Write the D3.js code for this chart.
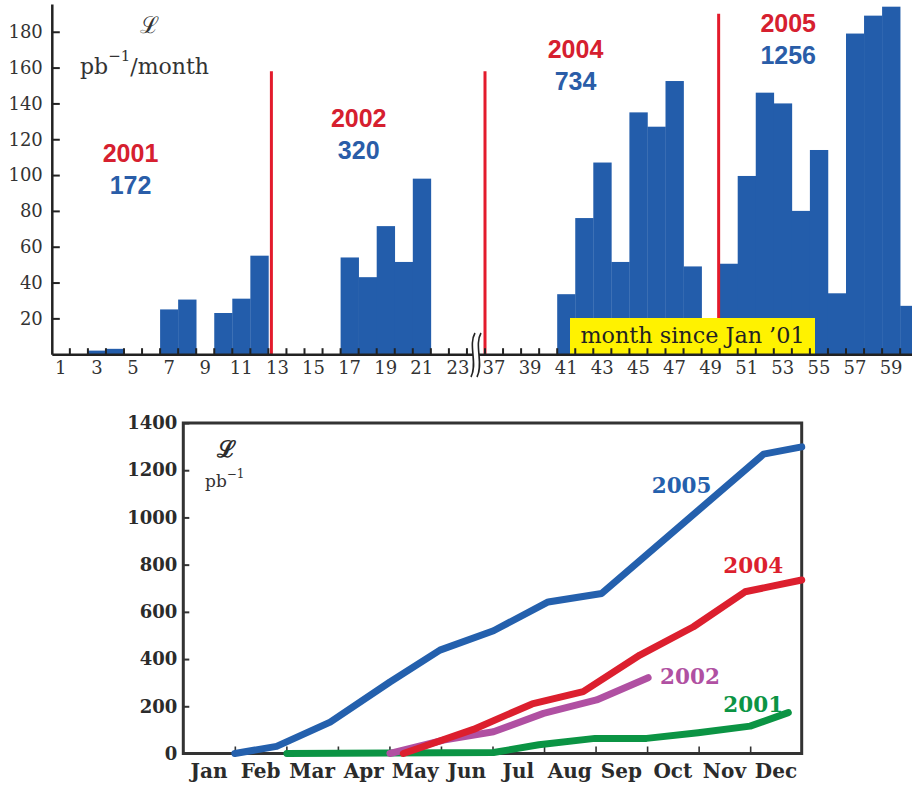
<!DOCTYPE html>
<html><head><meta charset="utf-8">
<script src="https://cdn.jsdelivr.net/npm/d3@7"></script>
<style>body{margin:0;background:#fff} svg{display:block}</style>
</head><body><svg id="c" width="912" height="786"></svg>
<script>
// ---------- DATA: top chart (monthly luminosity) ----------
const monthNumbers = [1,2,3,4,5,6,7,8,9,10,11,12,13,14,15,16,17,18,19,20,21,22,23,24,
                      37,38,39,40,41,42,43,44,45,46,47,48,49,50,51,52,53,54,55,56,57,58,59,60];
const monthlyLumi  = [0,0,2,3,0,0,25,30.5,0,23,31,55,
                      0,0,0,0,54,43,71.5,51.5,98,0,0,0,
                      0,0,0,0,33.5,76,107,51.5,135,127,152.5,49,
                      0,50.5,99.5,146,140,80,114,34,179,189,194,27];
const monthTickLabels = [1,3,5,7,9,11,13,15,17,19,21,23,37,39,41,43,45,47,49,51,53,55,57,59];
const topYTicks = [20,40,60,80,100,120,140,160,180];
const yearNames  = ["2001","2002","2004","2005"];
const yearTotals = ["172","320","734","1256"];
const boundaryAfterMonth = [12,24,49];
const boundaryTopValue = [158,158,190];

// ---------- DATA: bottom chart (cumulative) ----------
const cumMonths = ["Jan","Feb","Mar","Apr","May","Jun","Jul","Aug","Sep","Oct","Nov","Dec"];
const cumYTicks = [0,200,400,600,800,1000,1200,1400];
const cum2005T = [1.0,1.81,2.85,4.01,4.98,6.02,7.08,8.12,11.26,12.0];
const cum2005V = [0,30,133,303,438,520,642,678,1268,1299];
const cum2004T = [4.27,5.63,6.77,7.76,8.86,9.90,10.90,12.0];
const cum2004V = [0,102,210,262,417,537,685,735];
const cum2002T = [4.01,5.05,6.02,6.99,8.02,9.02];
const cum2002V = [0,57,92,170,227,321];
const cum2001T = [2.01,4.0,6.02,6.9,7.99,8.99,9.99,11.0,11.74];
const cum2001V = [0,2,4,37,64,64,88,116,173];

const svg = d3.select("#c");
const BLUE = "#235dab";

// ================= TOP CHART =================
const step = 18.05, x0 = 51.8;
const xTop = d3.scaleBand().domain(monthNumbers).range([x0, x0 + monthNumbers.length*step]).padding(0);
const yTop = d3.scaleLinear().domain([0,195.5]).range([354.2, 4]);
const bw = xTop.bandwidth();
const gT = svg.append("g");

const barData = monthNumbers.map((m,i)=>({m, v: monthlyLumi[i]})).filter(d=>d.v>0);
gT.selectAll("rect.bar").data(barData).join("rect").attr("class","bar")
  .attr("x", d=>xTop(d.m)).attr("width", bw+0.3)
  .attr("y", d=>yTop(d.v)).attr("height", d=>yTop(0)-yTop(d.v))
  .attr("fill", BLUE);

// red boundaries
const nudge = [3,0,-1];
gT.selectAll("line.bnd").data(boundaryAfterMonth).join("line").attr("class","bnd")
  .attr("x1",(d,i)=>xTop(d)+bw+nudge[i]).attr("x2",(d,i)=>xTop(d)+bw+nudge[i])
  .attr("y1",(d,i)=>yTop(boundaryTopValue[i])).attr("y2",yTop(0))
  .attr("stroke","#e31b2c").attr("stroke-width",3);

// yellow label box
gT.append("rect").attr("x",570).attr("y",318).attr("width",245).attr("height",36).attr("fill","#fff200");
gT.append("text").attr("x",692.5).attr("y",343).attr("text-anchor","middle")
  .attr("font-family","DejaVu Serif").attr("font-size",22.3).attr("fill","#222")
  .text("month since Jan \u201901");

// y axis
const yAxT = gT.append("g").attr("transform",`translate(${x0},0)`)
  .call(d3.axisLeft(yTop).tickValues(topYTicks).tickSizeInner(-8).tickSizeOuter(0).tickPadding(9));
yAxT.select(".domain").attr("stroke","#222").attr("stroke-width",2.5);
yAxT.selectAll(".tick line").attr("stroke","#222").attr("stroke-width",2);
yAxT.selectAll("text").attr("font-family","DejaVu Serif").attr("font-size",18).attr("fill","#333");

// x axis line + labels
const xAxT = gT.append("g").attr("transform",`translate(0,${yTop(0)})`)
  .call(d3.axisBottom(xTop).tickValues(monthTickLabels).tickSize(0).tickPadding(7));
xAxT.select(".domain").attr("stroke","#222").attr("stroke-width",2.5);
xAxT.selectAll("text").attr("font-family","DejaVu Serif").attr("font-size",18).attr("fill","#333");
// inward edge ticks
const edges = monthNumbers.map(m=>xTop(m)).slice(1);
gT.selectAll("line.et").data(edges).join("line").attr("class","et")
  .attr("x1",d=>d).attr("x2",d=>d).attr("y1",yTop(0)).attr("y2",yTop(0)-6)
  .attr("stroke","#222").attr("stroke-width",2);

// axis break symbol
const bx = xTop(24) + bw/2;
gT.append("rect").attr("x",bx-3).attr("y",yTop(0)-3).attr("width",6).attr("height",6).attr("fill","#fff");
[bx-3, bx+3].forEach(cx=>{
  gT.append("path").attr("d",`M${cx+2},333 C${cx-5},345 ${cx+5},364 ${cx-2},377`)
    .attr("fill","none").attr("stroke","#222").attr("stroke-width",1.6);
});

// units label
gT.append("text").attr("x",149).attr("y",33).attr("text-anchor","middle")
  .attr("font-family","DejaVu Serif").attr("font-size",23).attr("fill","#333").text("\u2112");
const unit = gT.append("text").attr("x",80).attr("y",74).attr("font-family","DejaVu Serif")
  .attr("font-size",22).attr("fill","#333");
unit.append("tspan").text("pb");
unit.append("tspan").attr("dy",-13).attr("font-size",15).text("\u22121");
unit.append("tspan").attr("dy",13).text("/month");

// year annotations
const annX = [130.5,358.7,575.5,788.2];
const annY = [162.3,127.3,58.3,32.3];
yearNames.forEach((t,i)=>{
  gT.append("text").attr("x",annX[i]).attr("y",annY[i]).attr("text-anchor","middle")
    .attr("font-family","Liberation Sans").attr("font-weight","bold").attr("font-size",25)
    .attr("fill","#d6202f").text(t);
  gT.append("text").attr("x",annX[i]).attr("y",annY[i]+31.8).attr("text-anchor","middle")
    .attr("font-family","Liberation Sans").attr("font-weight","bold").attr("font-size",25)
    .attr("fill","#2a5da8").text(yearTotals[i]);
});

// ================= BOTTOM CHART =================
const xCum = d3.scaleLinear().domain([0,12]).range([183.3, 801.7]);
const yCum = d3.scaleLinear().domain([0,1400]).range([753.5, 423]);
const xMon = d3.scaleBand().domain(cumMonths).range([183.3, 801.7]);
const gB = svg.append("g");

gB.append("rect").attr("x",xCum(0)).attr("y",yCum(1400)).attr("width",xCum(12)-xCum(0))
  .attr("height",yCum(0)-yCum(1400)).attr("fill","none").attr("stroke","#333").attr("stroke-width",3);

const yAxB = gB.append("g").attr("transform",`translate(${xCum(0)},0)`)
  .call(d3.axisLeft(yCum).tickValues(cumYTicks).tickFormat(d3.format("d"))
    .tickSizeInner(-6).tickSizeOuter(0).tickPadding(6));
yAxB.select(".domain").remove();
yAxB.selectAll(".tick line").attr("stroke","#333").attr("stroke-width",2);
yAxB.selectAll("text").attr("font-family","DejaVu Serif").attr("font-weight","bold")
  .attr("font-size",18).attr("fill","#2b2b2b");

const xTickB = gB.append("g").attr("transform",`translate(0,${yCum(0)})`)
  .call(d3.axisBottom(xCum).tickValues([1,2,3,4,5,6,7,8,9,10,11]).tickSizeInner(-7).tickSizeOuter(0).tickFormat(""));
xTickB.select(".domain").remove();
xTickB.selectAll(".tick line").attr("stroke","#333").attr("stroke-width",1.6);

const xLabB = gB.append("g").attr("transform",`translate(0,${yCum(0)})`)
  .call(d3.axisBottom(xMon).tickSize(0).tickPadding(10));
xLabB.select(".domain").remove();
xLabB.selectAll("text").attr("font-family","DejaVu Serif").attr("font-weight","bold")
  .attr("font-size",20).attr("fill","#2b2b2b");

const line = d3.line().x(d=>xCum(d[0])).y(d=>yCum(d[1]));
const series = [
  {t:cum2001T, v:cum2001V, c:"#0b9444"},
  {t:cum2002T, v:cum2002V, c:"#b050a2"},
  {t:cum2004T, v:cum2004V, c:"#dc1f2e"},
  {t:cum2005T, v:cum2005V, c:"#2460ad"}
];
series.forEach(s=>{
  gB.append("path").attr("d", line(s.t.map((t,i)=>[t,s.v[i]])))
    .attr("fill","none").attr("stroke",s.c).attr("stroke-width",7)
    .attr("stroke-linecap","round").attr("stroke-linejoin","round");
});

const lblTxt = ["2005","2004","2002","2001"];
const lblCol = ["#2460ad","#dc1f2e","#b050a2","#0b9444"];
const lblX = [651.7,723.3,660,723.3];
const lblY = [493.3,572.7,684,711.7];
lblTxt.forEach((t,i)=>{
  gB.append("text").attr("x",lblX[i]).attr("y",lblY[i]).attr("font-family","DejaVu Serif")
    .attr("font-weight","bold").attr("font-size",21.5).attr("fill",lblCol[i]).text(t);
});

gB.append("text").attr("x",226.7).attr("y",457).attr("text-anchor","middle")
  .attr("font-family","DejaVu Serif").attr("font-weight","bold").attr("font-size",23)
  .attr("fill","#2b2b2b").text("\u2112");
const ub = gB.append("text").attr("x",205).attr("y",487).attr("font-family","DejaVu Serif")
  .attr("font-size",17).attr("fill","#333");
ub.append("tspan").text("pb");
ub.append("tspan").attr("dy",-9).attr("font-size",12).text("\u22121");
</script></body></html>
